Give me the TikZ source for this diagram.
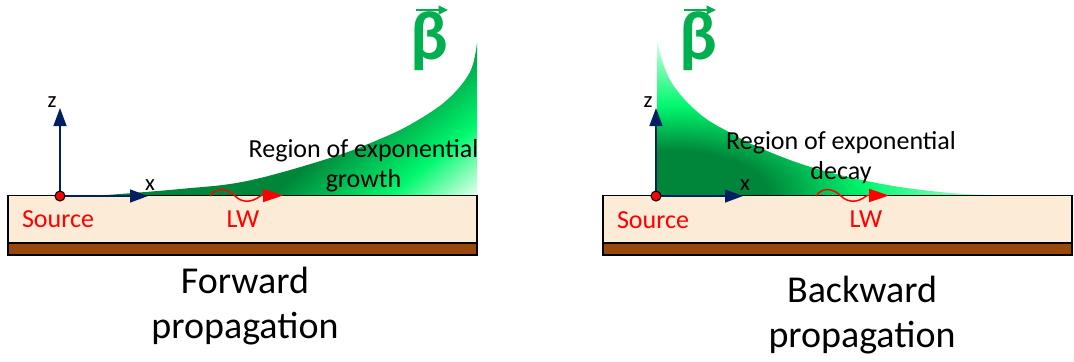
\documentclass[tikz,border=0pt]{standalone}
\usepackage{fontspec}
\setmainfont{Carlito}
\usetikzlibrary{arrows.meta,calc}
\definecolor{navy}{RGB}{0,32,96}
\definecolor{cream}{RGB}{251,235,215}
\definecolor{brownx}{RGB}{152,72,9}
\definecolor{betag}{RGB}{0,176,80}
\definecolor{dkg}{RGB}{0,134,58}
\definecolor{brg}{RGB}{0,248,110}
\definecolor{paleg}{RGB}{228,255,236}
\pgfdeclarehorizontalshading{growsh}{100bp}{color(0bp)=(dkg); color(54bp)=(dkg); color(61.5bp)=(brg); color(67bp)=(paleg); color(100bp)=(paleg)}
\pgfdeclareradialshading{decaysh}{\pgfpoint{0bp}{0bp}}{color(0bp)=(dkg); color(7bp)=(dkg); color(14bp)=(brg); color(21bp)=(brg!45!white); color(25bp)=(white); color(50bp)=(white)}
\tikzset{
  axisarrow/.style={draw=navy, line width=1.1pt, -{Triangle[length=13.5pt,width=9.75pt]}},
  wavearrow/.style={draw=red, line width=1.1pt, -{Triangle[length=15pt,width=9.75pt]}},
  vecarrow/.style={draw=betag, line width=1.2pt, -{Triangle[length=7pt,width=6.5pt]}},
  srcdot/.style={circle, fill=red, draw=black, line width=0.8pt, minimum size=7.5pt, inner sep=0pt},
  lbl/.style={font=\fontsize{19.5pt}{22.5pt}\selectfont, inner sep=0pt},
  redlbl/.style={lbl, text=red},
  axlbl/.style={font=\fontsize{17pt}{20pt}\selectfont, inner sep=0pt},
  title/.style={font=\fontsize{28.5pt}{33.75pt}\selectfont, inner sep=0pt, align=center},
  betalbl/.style={font=\fontsize{52pt}{56pt}\selectfont\bfseries, text=betag, inner sep=0pt},
  slab/.style={fill=cream, draw=black, line width=1.2pt},
  ground/.style={fill=brownx, draw=black, line width=1.2pt}
}
\begin{document}
\begin{tikzpicture}[x=0.75pt, y=-0.75pt]
\useasboundingbox (0,0) rectangle (1074,361);

% ---------------- Forward propagation ----------------
\begin{scope}
  \clip (100,195.5) -- plot[smooth, tension=0.6] coordinates {(100,195.5) (180,189) (247,181) (330,158) (380,139) (413,123) (447,100) (470,72) (477,43)} -- (477,195.5) -- cycle;
  \shade[shading=growsh, shading angle=-50.9] (50,-130) rectangle (550,370);
\end{scope}
\draw[slab] (8,195.5) rectangle (477,243);
\draw[ground] (8,243) rectangle (477,255);

\coordinate (o1) at (60,196);
\coordinate (z1) at (60,108);
\coordinate (x1) at (148,196);
\draw[axisarrow] (o1) -- (z1);
\draw[axisarrow] (o1) -- (x1);
\node[srcdot] (s1) at (o1) {};
\node[axlbl, anchor=base] (zl1) at (52,107) {z};
\node[axlbl, anchor=base] (xl1) at (150,190) {x};

\coordinate (w1a) at (210,196);
\coordinate (w1b) at (283,195.5);
\draw[wavearrow] (w1a) .. controls (217,186) and (228,189) .. (235,196) .. controls (242,203) and (252,203) .. (261,195.5) -- (w1b);

\node[redlbl, anchor=base] (src1) at (58,227.5) {Source};
\node[redlbl, anchor=base] (lw1) at (243,227.5) {LW};
\node[lbl, align=center] (reg1) at (363.5,166) {Region of exponential\\growth};

\node[betalbl, anchor=base] (b1) at (429,59) {β};
\coordinate (v1a) at (416,10);
\coordinate (v1b) at (448,10);
\draw[vecarrow] (v1a) -- (v1b);

\node[title] (t1) at (245,306.5) {Forward\\propagation};

% ---------------- Backward propagation ----------------
\begin{scope}
  \clip (657,195.5) -- (657,39) -- plot[smooth, tension=0.6] coordinates {(657,39) (662,60) (670,80) (685,100) (705,118) (727,131) (760,148) (814,168) (882,184) (951,193) (1015,195.5)} -- cycle;
  \shade[shading=decaysh] (320,35) rectangle (1020,355);
\end{scope}
\draw[slab] (603,195.5) rectangle (1072,243);
\draw[ground] (603,243) rectangle (1072,255);

\coordinate (o2) at (656,196);
\coordinate (z2) at (656,108);
\coordinate (x2) at (743,196);
\draw[axisarrow] (o2) -- (z2);
\draw[axisarrow] (o2) -- (x2);
\node[srcdot] (s2) at (o2) {};
\node[axlbl, anchor=base] (zl2) at (648,107) {z};
\node[axlbl, anchor=base] (xl2) at (745,190) {x};

\coordinate (w2a) at (816,196);
\coordinate (w2b) at (889,195.5);
\draw[wavearrow] (w2a) .. controls (823,186) and (834,189) .. (841,196) .. controls (848,203) and (858,203) .. (867,195.5) -- (w2b);

\node[redlbl, anchor=base] (src2) at (653,228) {Source};
\node[redlbl, anchor=base] (lw2) at (866,227.5) {LW};
\node[lbl, align=center] (reg2) at (841,158) {Region of exponential\\decay};

\node[betalbl, anchor=base] (b2) at (698,59) {β};
\coordinate (v2a) at (684,10);
\coordinate (v2b) at (716,10);
\draw[vecarrow] (v2a) -- (v2b);

\node[title] (t2) at (862,315) {Backward\\propagation};
\end{tikzpicture}
\end{document}
